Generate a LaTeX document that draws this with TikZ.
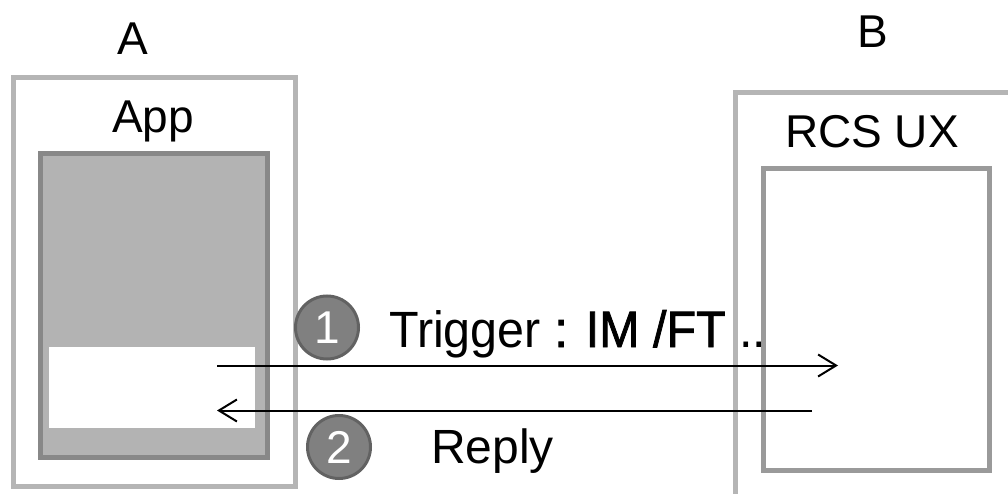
\documentclass[tikz,border=0pt]{standalone}
\usepackage{fontspec}
\setmainfont{Liberation Sans}
\newfontfamily\medfont[FakeBold=1.6]{Liberation Sans}
\usetikzlibrary{arrows.meta}
\definecolor{lightframe}{HTML}{B5B5B5}
\definecolor{darkframe}{HTML}{888888}
\definecolor{rframe}{HTML}{9A9A9A}
\definecolor{panel}{HTML}{B3B3B3}
\definecolor{badgefill}{HTML}{808080}
\definecolor{badgeline}{HTML}{626262}
\tikzset{
  boxframe/.style={draw=lightframe, line width=5pt, inner sep=0pt, outer sep=0pt},
  badge/.style={circle, fill=badgefill, draw=badgeline, line width=3pt, minimum size=63pt, inner sep=0pt,
    text=white, font=\fontsize{46}{46}\selectfont},
  lbl/.style={inner sep=0pt, anchor=base, font=\fontsize{46}{46}\selectfont},
  msg/.style={line width=2pt, -{Straight Barb[length=18pt,width=22pt,line width=2pt]}},
}
\begin{document}
\begin{tikzpicture}[x=1pt,y=-1pt]
\useasboundingbox (0,0) rectangle (1008,494);
\clip (0,0) rectangle (1008,494);
% left side
\node[boxframe, minimum width=282.5pt, minimum height=408.5pt] (outerA) at (154.25,281.75) {};
\node[draw=darkframe, fill=panel, line width=5pt, inner sep=0pt, minimum width=227pt, minimum height=303pt] (app) at (153.5,305.5) {};
\node[fill=white, inner sep=0pt, minimum width=206pt, minimum height=81pt] (slot) at (152,387.5) {};
\node[lbl] (labA) at (133,55) {A};
\node[lbl] (labApp) at (153,133) {App};
% right side
\node[boxframe, minimum width=300pt, minimum height=440pt, anchor=north west] (outerB) at (735.5,92.5) {};
\node[draw=rframe, fill=white, line width=5pt, inner sep=0pt, minimum width=226pt, minimum height=302pt] (rcs) at (876.5,319.5) {};
\node[lbl] (labB) at (873,48) {B};
\node[lbl] (labRCS) at (872,148) {RCS UX};
% messages
\coordinate (s1) at (217,365.5);
\coordinate (e1) at (838,365.5);
\coordinate (s2) at (812,410.5);
\coordinate (e2) at (217,410.5);
\draw[msg] (s1) -- (e1);
\draw[msg] (s2) -- (e2);
\node[badge] (b1) at (327,327.5) {1};
\node[badge] (b2) at (339,447) {2};
\node[inner sep=0pt, anchor=base west, font=\fontsize{51}{51}\selectfont] (trig) at (389,347) {\scalebox{0.95}[1]{Trigger {\medfont: IM /FT} ..}};
\node[inner sep=0pt, anchor=base west, font=\fontsize{48}{48}\selectfont] (reply) at (431,463) {Reply};
\end{tikzpicture}
\end{document}
